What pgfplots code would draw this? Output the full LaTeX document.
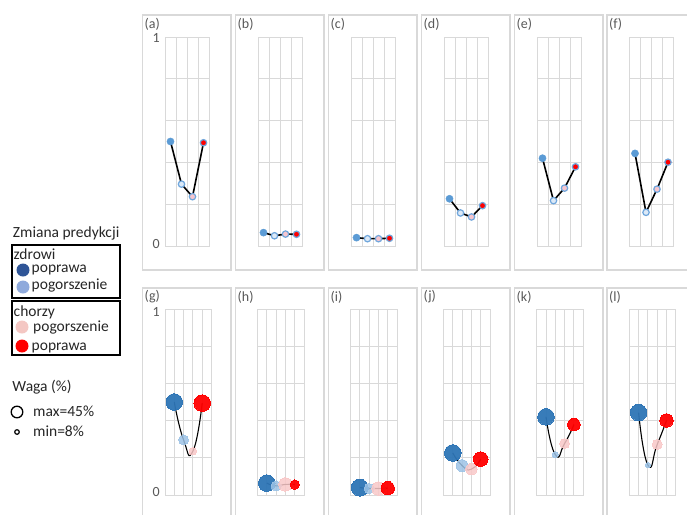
\documentclass[border=0pt]{standalone}
\usepackage{fontspec}
\setmainfont{Carlito}
\usepackage{pgfplots}
\pgfplotsset{compat=1.18}
\definecolor{gridgray}{HTML}{D9D9D9}
\definecolor{labgray}{HTML}{595959}
\definecolor{txt}{HTML}{262626}
\definecolor{tblue}{HTML}{5B9BD5}
\definecolor{tring}{HTML}{6FA6DC}
\definecolor{tpale}{HTML}{DCE9F7}
\definecolor{tpink}{HTML}{F6C6CF}
\definecolor{tred}{HTML}{FF0000}
\definecolor{bblue}{HTML}{2E75B6}
\definecolor{blight}{HTML}{9DC3E6}
\definecolor{bpink}{HTML}{F9C8C8}
\definecolor{bred}{HTML}{FF0000}
\definecolor{lnavy}{HTML}{2F5597}
\definecolor{llight}{HTML}{8FAADC}
\definecolor{lpink}{HTML}{F4C7C3}
\pgfplotsset{
  panel/.style={scale only axis, xmin=0, ymin=0, ymax=1,
    ytick={0,0.2,0.4,0.6,0.8,1}, grid=major,
    grid style={gridgray, line width=0.9pt},
    axis line style={gridgray, line width=0.9pt},
    major tick length=0pt, xticklabels={}, yticklabels={}, clip=false},
}
% top panel: #1 grid left, #2..#5 values
\newcommand{\toppanel}[5]{%
\begin{axis}[panel, at={(#1pt,-246pt)}, anchor=south west, width=44pt, height=209pt, xmax=4, xtick={0,1,2,3,4}]
\addplot[black, line width=1.6pt] coordinates {(0.5,#2)(1.5,#3)(2.5,#4)(3.5,#5)};
\addplot[tblue, only marks, mark=*, mark size=3.6pt, mark options={fill=tblue, draw=tblue}] coordinates {(0.5,#2)};
\addplot[tring, only marks, mark=*, mark size=3.2pt, mark options={fill=tpale, draw=tring, line width=1.2pt}] coordinates {(1.5,#3)};
\addplot[tring, only marks, mark=*, mark size=3.2pt, mark options={fill=tpink, draw=tring, line width=1.2pt}] coordinates {(2.5,#4)};
\addplot[tring, only marks, mark=*, mark size=3.2pt, mark options={fill=tred, draw=tring, line width=1.2pt}] coordinates {(3.5,#5)};
\end{axis}}
% bottom panel: #1 grid left, #2..#5 values, #6..#9 radii
\newcommand{\botpanel}[9]{%
\begin{axis}[panel, at={(#1pt,-495pt)}, anchor=south west, width=46.5pt, height=186pt, xmax=5, xtick={0,1,2,3,4,5}]
\addplot[bblue, only marks, mark=*, mark size=#6pt, mark options={fill=bblue, draw=bblue, line width=0pt, opacity=0.95}] coordinates {(1,#2)};
\addplot[blight, only marks, mark=*, mark size=#7pt, mark options={fill=blight, draw=blight, line width=0pt, opacity=0.85}] coordinates {(2,#3)};
\addplot[bpink, only marks, mark=*, mark size=#8pt, mark options={fill=bpink, draw=bpink, line width=0pt, opacity=0.85}] coordinates {(3,#4)};
\addplot[bred, only marks, mark=*, mark size=#9pt, mark options={fill=bred, draw=bred, line width=0pt, opacity=0.95}] coordinates {(4,#5)};
\addplot[black, line width=1.1pt, smooth, tension=1] coordinates {(1,#2)(2,#3)(3,#4)(4,#5)};
\end{axis}}
\begin{document}
\begin{tikzpicture}
\useasboundingbox (0,0) rectangle (687pt,-514pt);
\fill[white] (0,0) rectangle (687pt,-514pt);
% panel frames and labels
\foreach \xl/\la/\lb in {142.5/a/g, 235.5/b/h, 328.5/c/i, 421.5/d/j, 514.5/e/k, 607/f/l}{
  \draw[gridgray, line width=1.5pt] (\xl pt,-15pt) rectangle ++(88.5pt,-255pt);
  \draw[gridgray, line width=1.5pt] (\xl pt,-288pt) rectangle ++(88.5pt,-240pt);
  \node[anchor=west, inner sep=0pt, text=labgray, font=\fontsize{14}{16}\selectfont] at (\xl pt+2pt,-24pt) {(\la)};
  \node[anchor=west, inner sep=0pt, text=labgray, font=\fontsize{14}{16}\selectfont] at (\xl pt+2pt,-297pt) {(\lb)};
}
% top row
\toppanel{165}{0.500}{0.296}{0.236}{0.494}
\toppanel{258}{0.064}{0.049}{0.057}{0.056}
\toppanel{351}{0.040}{0.035}{0.035}{0.037}
\toppanel{444}{0.226}{0.158}{0.139}{0.193}
\toppanel{537}{0.420}{0.217}{0.277}{0.379}
\toppanel{629.5}{0.443}{0.161}{0.272}{0.401}
% bottom row
\botpanel{165}{0.500}{0.296}{0.236}{0.494}{8.3}{5}{3.8}{8.3}
\botpanel{257.5}{0.064}{0.049}{0.057}{0.056}{8.3}{5}{6.7}{4.7}
\botpanel{350.5}{0.040}{0.035}{0.035}{0.037}{8.5}{5}{6.7}{6.7}
\botpanel{443.5}{0.226}{0.158}{0.139}{0.193}{8.3}{6}{5.7}{7.3}
\botpanel{536.7}{0.420}{0.217}{0.277}{0.379}{8.3}{3}{5}{6.3}
\botpanel{629.3}{0.443}{0.161}{0.272}{0.401}{8.3}{2.7}{5}{6.7}
% axis end labels
\node[anchor=east, inner sep=0pt, text=labgray, font=\fontsize{14}{16}\selectfont] at (160pt,-38pt) {1};
\node[anchor=east, inner sep=0pt, text=labgray, font=\fontsize{14}{16}\selectfont] at (160pt,-244pt) {0};
\node[anchor=east, inner sep=0pt, text=labgray, font=\fontsize{14}{16}\selectfont] at (160pt,-312pt) {1};
\node[anchor=east, inner sep=0pt, text=labgray, font=\fontsize{14}{16}\selectfont] at (160pt,-492pt) {0};
% legend
\begin{scope}[every node/.style={anchor=base west, inner sep=0pt, text=txt, font=\fontsize{15.5}{18}\selectfont}]
\node at (12.7pt,-237pt) {Zmiana predykcji};
\draw[black, line width=1.8pt] (12pt,-245pt) rectangle (120pt,-298pt);
\node at (13.5pt,-259pt) {zdrowi};
\fill[lnavy] (23pt,-270pt) circle (6.5pt);
\node at (31.5pt,-272pt) {poprawa};
\fill[llight] (23pt,-287pt) circle (6.5pt);
\node at (31.5pt,-289pt) {pogorszenie};
\draw[black, line width=1.8pt] (12pt,-301pt) rectangle (120pt,-355pt);
\node at (13.5pt,-316pt) {chorzy};
\fill[lpink] (22pt,-327pt) circle (6.5pt);
\node at (33pt,-331pt) {pogorszenie};
\fill[bred] (22pt,-346pt) circle (6.5pt);
\node at (31.5pt,-350pt) {poprawa};
\node at (12.3pt,-391.5pt) {Waga (\%)};
\draw[black, line width=1.3pt] (17pt,-412pt) circle (5.8pt);
\node at (33pt,-416.5pt) {max=45\%};
\draw[black, line width=1.2pt] (17pt,-432pt) circle (2.3pt);
\node at (33pt,-436.5pt) {min=8\%};
\end{scope}
\end{tikzpicture}
\end{document}
